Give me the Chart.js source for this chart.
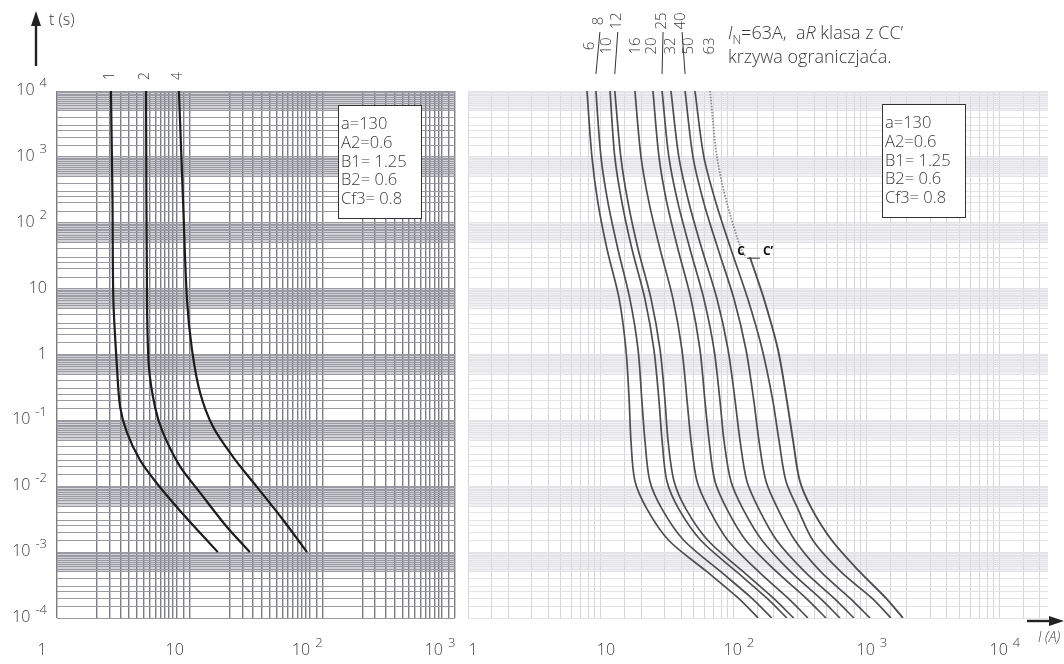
<!DOCTYPE html>
<html lang="pl">
<head>
  <meta charset="utf-8" />
  <title>Charakterystyki t-I</title>
  <script src="https://cdn.jsdelivr.net/npm/chart.js"></script>
  <style>
    body { margin: 0; background: #fff; }
    .wrap { position: relative; width: 1064px; height: 664px; overflow: hidden; background: #fff; }
    .wrap canvas { position: absolute; left: 0; top: 0; }
  </style>
</head>
<body>
  <div class="wrap">
    <canvas id="leftChart" width="1064" height="664"></canvas>
    <canvas id="rightChart" width="1064" height="664"></canvas>
  </div>

  <script>
  // ---- left panel: t (s) against I, curves 1, 2, 4 ----
  const leftNames = ['1', '2', '4'];
  const leftT1 = [10000, 220, 6.7, 0.65, 0.16, 0.065, 0.025, 0.011, 0.0048, 0.0022, 0.001];
  const leftI1 = [2.55, 2.62, 2.66, 2.83, 2.99, 3.37, 4.22, 5.67, 8.02, 11.35, 16.3];
  const leftT2 = [10000, 6.7, 0.65, 0.16, 0.065, 0.02, 0.008, 0.0024, 0.001];
  const leftI2 = [4.69, 4.77, 4.93, 5.48, 6.29, 8.45, 11.97, 19.1, 28.4];
  const leftT4 = [10000, 220, 6.7, 1.2, 0.26, 0.08, 0.028, 0.0098, 0.0031, 0.001];
  const leftI4 = [8.3, 8.91, 9.55, 10.4, 12.0, 15.0, 21.2, 32.1, 50.5, 76.6];

  // ---- right panel: aR fuses 6..63 A, all read at the same times ----
  const rightT = [10000, 1000, 200, 40, 7, 1.2, 0.2, 0.05, 0.012, 0.0045, 0.0015, 0.0005, 0.0002, 0.0001];
  const ratings = ['6', '8', '10', '12', '16', '20', '25', '32', '40', '50'];
  const i6  = [7.85, 8.55, 9.49, 11.1, 13.7, 15.4, 16.3, 16.8, 18.0, 22.2, 32.4, 63.0, 108, 152];
  const i8  = [9.16, 10.0, 11.3, 13.4, 16.5, 19.0, 20.3, 21.4, 23.3, 28.8, 42.1, 80.0, 136, 192];
  const i10 = [11.7, 12.7, 14.4, 17.1, 21.4, 25.0, 27.3, 28.8, 31.3, 38.5, 56.5, 105, 177, 250];
  const i12 = [12.7, 14.1, 16.0, 19.0, 23.8, 27.8, 30.3, 31.9, 35.4, 43.6, 63.8, 118, 198, 281];
  const i16 = [18.0, 20.0, 23.0, 27.8, 34.8, 40.6, 44.4, 47.5, 52.7, 64.9, 90.2, 154, 255, 360];
  const i20 = [24.6, 27.3, 31.3, 37.9, 47.5, 55.5, 60.5, 64.9, 71.9, 88.5, 123, 210, 348, 492];
  const i25 = [28.8, 32.4, 37.9, 46.7, 59.4, 70.8, 78.5, 84.1, 94.8, 117, 163, 268, 444, 627];
  const i32 = [33.6, 38.5, 45.9, 57.4, 74.5, 90.2, 102, 111, 125, 154, 210, 342, 565, 798];
  const i40 = [42.9, 49.2, 59.4, 75.9, 100, 123, 141, 154, 174, 214, 288, 451, 745, 1054];
  const i50 = [50.9, 59.4, 73.3, 94.8, 127, 163, 196, 218, 246, 303, 393, 638, 1091, 1514];
  // 63 A: limiting curve dotted down to C, solid from C'
  const t63Dot = [10000, 1000, 200, 40, 30];
  const i63Dot = [66.1, 74.5, 88.5, 113, 123];
  const t63 = [30, 7, 1.2, 0.2, 0.05, 0.012, 0.0045, 0.0015, 0.0005, 0.0002, 0.0001];
  const i63 = [132, 168, 214, 250, 278, 313, 386, 546, 885, 1390, 1866];

  // ---- axes ----
  const xLabelsLeft = [1, 10, 100, 1000];
  const xLabelsRight = [1, 10, 100, 1000, 10000];
  const yLabels = [1e4, 1e3, 100, 10, 1, 0.1, 0.01, 0.001, 0.0001];
  const boxLines = ['a=130', 'A2=0.6', 'B1= 1.25', 'B2= 0.6', 'Cf3= 0.8'];

  // grid line positions inside one decade
  const gridStepsXL = [1, 2, 2.5, 3, 3.5, 4, 4.5, 5, 5.5, 6, 6.5, 7, 7.5, 8, 9];
  const gridStepsXR = [1, 1.5, 2, 3, 4, 5, 6, 7, 8, 9];
  const gridStepsY = [1, 1.5, 2, 2.5, 3, 4, 5, 5.5, 6, 6.5, 7, 7.5, 8, 8.5, 9, 9.5];

  const FONT = '"Open Sans", Lato, sans-serif';
  const INK = '#3a3a3a';

  function gridTicks(min, max, steps) {
    const out = [];
    for (let e = Math.floor(Math.log10(min)); e <= Math.ceil(Math.log10(max)); e++) {
      for (const s of steps) {
        const v = +(s * Math.pow(10, e)).toPrecision(6);
        if (v >= min * 0.999 && v <= max * 1.001) out.push({ value: v });
      }
    }
    return out;
  }

  function logAxis(min, max, steps, color, width) {
    return {
      type: 'logarithmic',
      min: min,
      max: max,
      border: { display: false },
      ticks: { display: false, autoSkip: false },
      grid: { color: color, lineWidth: width, drawTicks: false },
      afterBuildTicks: (scale) => { scale.ticks = gridTicks(min, max, steps); }
    };
  }

  function pts(xs, ys) {
    return xs.map((x, i) => ({ x: x, y: ys[i] }));
  }

  function curve(label, xs, ys, color, width, dash) {
    return {
      label: label,
      data: pts(xs, ys),
      showLine: true,
      borderColor: color,
      borderWidth: width,
      borderDash: dash || [],
      pointRadius: 0,
      tension: 0.3,
      fill: false
    };
  }

  function fontOf(size, opts) {
    return (opts.style || '') + ' ' + (opts.weight || 300) + ' ' + size + 'px ' + FONT;
  }

  function txt(ctx, s, x, y, size, opts) {
    opts = opts || {};
    ctx.save();
    ctx.font = fontOf(size, opts);
    ctx.fillStyle = opts.color || INK;
    ctx.textAlign = opts.align || 'left';
    ctx.textBaseline = opts.baseline || 'alphabetic';
    ctx.fillText(s, x, y);
    const w = ctx.measureText(s).width;
    ctx.restore();
    return w;
  }

  // runs of text drawn one after the other: [text, size, opts, dy]
  function runs(ctx, list, x, y) {
    list.forEach(r => { x += txt(ctx, r[0], x, y + (r[3] || 0), r[1], r[2]); });
  }

  function vText(ctx, s, x, y, size) {
    ctx.save();
    ctx.translate(x, y);
    ctx.rotate(-Math.PI / 2);
    ctx.font = '300 ' + size + 'px ' + FONT;
    ctx.fillStyle = INK;
    ctx.textAlign = 'center';
    ctx.textBaseline = 'middle';
    ctx.fillText(s, 0, 0);
    ctx.restore();
  }

  // "10" with a raised exponent, like the printed axis
  function powLabel(ctx, v, x, baseY, align, size) {
    size = size || 15;
    const e = Math.round(Math.log10(v));
    const base = e === 0 ? '1' : '10';
    const sup = (e === 0 || e === 1) ? '' : String(e);
    ctx.save();
    ctx.font = '300 ' + size + 'px ' + FONT;
    const wb = ctx.measureText(base).width;
    ctx.font = '300 ' + (size - 3) + 'px ' + FONT;
    const ws = sup ? ctx.measureText(sup).width + 5 : 0;
    ctx.restore();
    const total = wb + ws;
    const x0 = align === 'right' ? x - total : x - total / 2;
    txt(ctx, base, x0, baseY, size);
    if (sup) txt(ctx, sup, x0 + wb + 5, baseY - 8, size - 3);
  }

  function paramBox(ctx, x, y) {
    ctx.save();
    ctx.fillStyle = '#fff';
    ctx.fillRect(x, y, 83, 113);
    ctx.strokeStyle = '#333';
    ctx.lineWidth = 1;
    ctx.strokeRect(x + 0.5, y + 0.5, 83, 113);
    ctx.restore();
    boxLines.forEach((s, i) => txt(ctx, s, x + 3, y + 24 + i * 18.8, 16.5));
  }

  function bands(chart, fill) {
    const ctx = chart.ctx;
    const a = chart.chartArea;
    const ys = chart.scales.y;
    ctx.save();
    ctx.fillStyle = fill;
    for (let e = -4; e < 4; e++) {
      const top = ys.getPixelForValue(Math.pow(10, e + 1));
      const bot = ys.getPixelForValue(5 * Math.pow(10, e));
      ctx.fillRect(a.left, top, a.right - a.left, bot - top);
    }
    ctx.restore();
  }

  function line(ctx, x1, y1, x2, y2, w, color) {
    ctx.save();
    ctx.strokeStyle = color || INK;
    ctx.lineWidth = w || 1;
    ctx.beginPath();
    ctx.moveTo(x1, y1);
    ctx.lineTo(x2, y2);
    ctx.stroke();
    ctx.restore();
  }

  function arrowHead(ctx, x, y, dir) {
    ctx.save();
    ctx.fillStyle = '#222';
    ctx.beginPath();
    if (dir === 'up') {
      ctx.moveTo(x, y); ctx.lineTo(x - 5, y + 15); ctx.lineTo(x + 5, y + 15);
    } else {
      ctx.moveTo(x, y); ctx.lineTo(x - 15, y - 5); ctx.lineTo(x - 15, y + 5);
    }
    ctx.closePath();
    ctx.fill();
    ctx.restore();
  }

  const leftDecor = {
    id: 'leftDecor',
    beforeDraw(chart) { bands(chart, '#d2d2d6'); },
    afterDraw(chart) {
      const ctx = chart.ctx;
      const xs = chart.scales.x;
      const ys = chart.scales.y;
      yLabels.forEach(v => powLabel(ctx, v, 47, ys.getPixelForValue(v) + 4, 'right', 16));
      xLabelsLeft.forEach(v => powLabel(ctx, v, xs.getPixelForValue(v) - 15, 655, 'center', 16));
      [leftI1, leftI2, leftI4].forEach((arr, i) => vText(ctx, leftNames[i], xs.getPixelForValue(arr[0]) - 1, 76, 14));
      paramBox(ctx, chart.chartArea.right - 117, chart.chartArea.top + 14);
      // t (s) axis arrow
      line(ctx, 36, 66, 36, 24, 2.4, '#222');
      arrowHead(ctx, 36, 11, 'up');
      txt(ctx, 't (s)', 49, 25, 16);
    }
  };

  const rightLabelDx = [3, 3, -3, 2, 1, -1, 0, 0, -4, -6, 0];
  const rightLabelRow = [1, 0, 1, 0, 1, 1, 0, 1, 0, 1, 1];

  const rightDecor = {
    id: 'rightDecor',
    beforeDraw(chart) { bands(chart, '#f1f1f3'); },
    afterDraw(chart) {
      const ctx = chart.ctx;
      const xs = chart.scales.x;
      const ys = chart.scales.y;
      xLabelsRight.forEach(v => powLabel(ctx, v, xs.getPixelForValue(v) + 5, 655, 'center', 16));
      const tops = [i6, i8, i10, i12, i16, i20, i25, i32, i40, i50, i63Dot].map(a => xs.getPixelForValue(a[0]));
      ratings.concat(['63']).forEach((name, i) => {
        const lx = tops[i] + rightLabelDx[i];
        if (rightLabelRow[i]) {
          vText(ctx, name, lx, 46, 15);
        } else {
          vText(ctx, name, lx, 21, 15);
          line(ctx, lx + 1, 32, tops[i], 74, 1, '#333');
        }
      });
      paramBox(ctx, chart.chartArea.right - 166, chart.chartArea.top + 13);
      // C / C' marks where the limiting curve turns solid
      const cx = xs.getPixelForValue(i63Dot[i63Dot.length - 1]);
      const cy = ys.getPixelForValue(t63Dot[t63Dot.length - 1]);
      txt(ctx, 'C', cx - 1, cy - 2, 12, { weight: 700, align: 'right', color: '#111' });
      line(ctx, cx + 1, cy + 1, cx + 14, cy + 1, 1, '#333');
      txt(ctx, 'C\u2019', cx + 17, cy - 2, 12, { weight: 700, color: '#111' });
      // heading
      runs(ctx, [
        ['I', 18, { style: 'italic' }],
        ['N', 12, {}, 5],
        ['=63A,  a', 18, {}],
        ['R', 18, { style: 'italic' }],
        [' klasa z CC\u2019', 18, {}]
      ], 728, 39);
      txt(ctx, 'krzywa ograniczjaća.', 728, 63, 18);
      // I (A) axis arrow
      line(ctx, 1027, 621, 1052, 621, 2.4, '#222');
      arrowHead(ctx, 1064, 621, 'right');
      txt(ctx, 'I (A)', 1038, 642, 14, { style: 'italic' });
    }
  };

  const baseOptions = (padding, xAxis, yAxis) => ({
    responsive: false,
    animation: false,
    events: [],
    layout: { padding: padding },
    plugins: { legend: { display: false }, tooltip: { enabled: false } },
    scales: { x: xAxis, y: yAxis }
  });

  new Chart(document.getElementById('leftChart'), {
    type: 'scatter',
    data: {
      datasets: [
        curve('1', leftI1, leftT1, '#1c1c1c', 2.2),
        curve('2', leftI2, leftT2, '#1c1c1c', 2.2),
        curve('4', leftI4, leftT4, '#1c1c1c', 2.2)
      ]
    },
    options: baseOptions(
      { left: 57, top: 91, right: 609, bottom: 46 },
      logAxis(1, 1000, gridStepsXL, '#7c7c84', 1.4),
      logAxis(1e-4, 1e4, gridStepsY, '#9a9aa2', 1)
    ),
    plugins: [leftDecor]
  });

  const rightSets = [i6, i8, i10, i12, i16, i20, i25, i32, i40, i50]
    .map((arr, i) => curve(ratings[i] + ' A', arr, rightT, '#4e4e4e', 1.7));
  rightSets.push(curve('63 A C', i63Dot, t63Dot, '#8a8a8a', 1.8, [1.5, 1.5]));
  rightSets.push(curve('63 A', i63, t63, '#4e4e4e', 1.9));

  new Chart(document.getElementById('rightChart'), {
    type: 'scatter',
    data: { datasets: rightSets },
    options: baseOptions(
      { left: 468, top: 91, right: 16, bottom: 46 },
      logAxis(1, 23000, gridStepsXR, '#d4d4dc', 1),
      logAxis(1e-4, 1e4, gridStepsY, '#e2e2e7', 1)
    ),
    plugins: [rightDecor]
  });
  </script>
</body>
</html>
